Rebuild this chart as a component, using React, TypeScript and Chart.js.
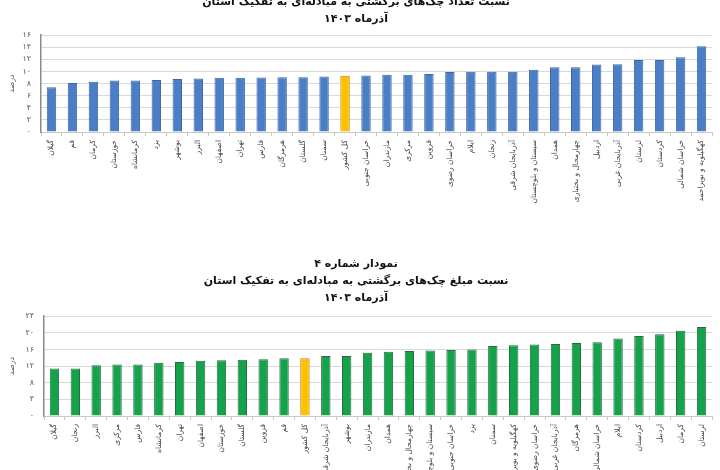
import React, { useEffect, useRef } from "react";
import { Chart, registerables } from "chart.js";

Chart.register(...registerables);

const FONT = "'DejaVu Sans', sans-serif";

// ---- Chart 1: count ratio ----
const titleTop = [
  "نمودار شماره ۳",
  "نسبت تعداد چک‌های برگشتی به مبادله‌ای به تفکیک استان",
  "آذرماه ۱۴۰۳",
];
const provincesTop = [
  "گیلان", "قم", "کرمان", "خوزستان", "کرمانشاه", "یزد", "بوشهر", "البرز",
  "اصفهان", "تهران", "فارس", "هرمزگان", "گلستان", "سمنان", "کل کشور",
  "خراسان جنوبی", "مازندران", "مرکزی", "قزوین", "خراسان رضوی", "ایلام",
  "زنجان", "آذربایجان شرقی", "سیستان و بلوچستان", "همدان",
  "چهارمحال و بختیاری", "اردبیل", "آذربایجان غربی", "لرستان", "کردستان",
  "خراسان شمالی", "کهگیلویه و بویراحمد",
];
const valuesTop = [
  7.4, 8.1, 8.3, 8.5, 8.5, 8.6, 8.75, 8.85, 8.95, 8.95, 9.0, 9.05, 9.05, 9.15,
  9.3, 9.35, 9.45, 9.45, 9.6, 9.9, 9.95, 9.95, 9.95, 10.3, 10.7, 10.7, 11.15,
  11.2, 11.9, 11.9, 12.35, 14.15,
];
const yTicksTop = ["۰", "۲", "۴", "۶", "۸", "۱۰", "۱۲", "۱۴", "۱۶"];

// ---- Chart 2: amount ratio ----
const titleBottom = [
  "نمودار شماره ۴",
  "نسبت مبلغ چک‌های برگشتی به مبادله‌ای به تفکیک استان",
  "آذرماه ۱۴۰۳",
];
const provincesBottom = [
  "گیلان", "زنجان", "البرز", "مرکزی", "فارس", "کرمانشاه", "تهران", "اصفهان",
  "خوزستان", "گلستان", "قزوین", "قم", "کل کشور", "آذربایجان شرقی", "بوشهر",
  "مازندران", "همدان", "چهارمحال و بختیاری", "سیستان و بلوچستان",
  "خراسان جنوبی", "یزد", "سمنان", "کهگیلویه و بویراحمد", "خراسان رضوی",
  "آذربایجان غربی", "هرمزگان", "خراسان شمالی", "ایلام", "کردستان", "اردبیل",
  "کرمان", "لرستان",
];
const valuesBottom = [
  11.4, 11.4, 12.2, 12.4, 12.4, 12.8, 13.0, 13.3, 13.4, 13.55, 13.65, 13.9,
  13.9, 14.45, 14.45, 15.2, 15.45, 15.65, 15.75, 15.85, 16.0, 16.8, 17.0, 17.2,
  17.3, 17.55, 17.7, 18.6, 19.25, 19.65, 20.5, 21.4,
];
const yTicksBottom = ["۰", "۴", "۸", "۱۲", "۱۶", "۲۰", "۲۴"];

const TOTAL = "کل کشور";

type Cfg = {
  titles: string[];
  labels: string[];
  values: number[];
  ticks: string[];
  step: number;
  max: number;
  color: string;
  border: string;
  yWidth: number;
  xHeight: number;
  titlePadTop: number;
  titlePadBottom: number;
};

function BarChart({ cfg, top, height }: { cfg: Cfg; top: number; height: number }) {
  const ref = useRef<HTMLCanvasElement | null>(null);
  useEffect(() => {
    if (!ref.current) return;
    const bg = cfg.labels.map((l) => (l === TOTAL ? "#FFC000" : cfg.color));
    const bd = cfg.labels.map((l) => (l === TOTAL ? "#B88A00" : cfg.border));
    const chart = new Chart(ref.current, {
      type: "bar",
      data: {
        labels: cfg.labels,
        datasets: [
          {
            data: cfg.values,
            backgroundColor: bg,
            borderColor: bd,
            borderWidth: 1,
            barPercentage: 0.9,
            categoryPercentage: 0.5,
          },
        ],
      },
      options: {
        animation: false,
        responsive: false,
        maintainAspectRatio: false,
        layout: { padding: { left: 0, right: 8, top: 0, bottom: 0 } },
        plugins: {
          legend: { display: false },
          tooltip: { enabled: false },
          title: {
            display: true,
            text: cfg.titles,
            color: "#111",
            font: { family: FONT, size: 11, weight: "bold", lineHeight: 1.55 },
            padding: { top: cfg.titlePadTop, bottom: cfg.titlePadBottom },
          },
        },
        scales: {
          x: {
            grid: {
              drawOnChartArea: false,
              drawTicks: true,
              tickLength: 4,
              color: "#c8c8c8",
              offset: true,
            },
            border: { color: "#c8c8c8" },
            ticks: {
              autoSkip: false,
              minRotation: 90,
              maxRotation: 90,
              padding: 4,
              color: "#444",
              font: { family: FONT, size: 7.5 },
            },
            afterFit: (s: any) => {
              s.height = cfg.xHeight;
            },
          },
          y: {
            min: 0,
            max: cfg.max,
            grid: { color: "#d9d9d9", drawTicks: false },
            border: { color: "#8a8a8a", width: 1.5 },
            ticks: {
              stepSize: cfg.step,
              autoSkip: false,
              padding: 10,
              color: "#555",
              font: { family: FONT, size: 8 },
              callback: (_v: any, i: number) => cfg.ticks[i],
            },
            title: {
              display: true,
              text: "درصد",
              color: "#555",
              font: { family: FONT, size: 8 },
              padding: { top: 7, bottom: 0 },
            },
            afterFit: (s: any) => {
              s.width = cfg.yWidth;
            },
          },
        },
      },
    });
    return () => chart.destroy();
  }, [cfg]);
  return (
    <canvas
      ref={ref}
      width={720}
      height={height}
      style={{ position: "absolute", left: 0, top, width: 720, height }}
    />
  );
}

const cfgTop: Cfg = {
  titles: titleTop,
  labels: provincesTop,
  values: valuesTop,
  ticks: yTicksTop,
  step: 2,
  max: 16,
  color: "#4A7EC6",
  border: "#3B669F",
  yWidth: 41,
  xHeight: 78,
  titlePadTop: 17,
  titlePadBottom: 7,
};

const cfgBottom: Cfg = {
  titles: titleBottom,
  labels: provincesBottom,
  values: valuesBottom,
  ticks: yTicksBottom,
  step: 4,
  max: 24,
  color: "#14A34B",
  border: "#2C6A3E",
  yWidth: 44,
  xHeight: 64,
  titlePadTop: 16,
  titlePadBottom: 9,
};

export default function App() {
  return (
    <div
      style={{
        position: "absolute",
        left: 0,
        top: 0,
        width: 720,
        height: 470,
        overflow: "hidden",
        background: "#fff",
      }}
    >
      <BarChart cfg={cfgTop} top={-40} height={250} />
      <BarChart cfg={cfgBottom} top={240} height={240} />
    </div>
  );
}
